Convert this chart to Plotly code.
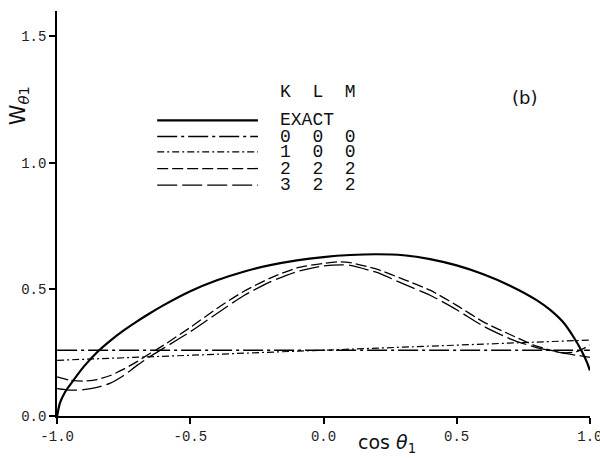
import plotly.graph_objects as go

# ---------------- data ----------------
x_exact = [-1.0, -0.99, -0.97, -0.95, -0.9, -0.85, -0.8, -0.75, -0.7, -0.65, -0.6, -0.5, -0.4, -0.3, -0.2, -0.1,
           0.0, 0.1, 0.2, 0.3, 0.4, 0.5, 0.6, 0.7, 0.8, 0.85, 0.9, 0.94, 0.97, 0.99, 1.0]
y_exact = [0.0, 0.05, 0.095, 0.125, 0.195, 0.252, 0.298, 0.338, 0.374, 0.407, 0.438, 0.493, 0.536, 0.57, 0.596, 0.615,
           0.628, 0.636, 0.639, 0.635, 0.62, 0.595, 0.56, 0.515, 0.458, 0.42, 0.37, 0.31, 0.255, 0.21, 0.18]

x_000 = [-1.0, 1.0]
y_000 = [0.26, 0.26]

x_100 = [-1.0, 1.0]
y_100 = [0.22, 0.30]

x_222 = [-1.0, -0.95, -0.9, -0.85, -0.8, -0.75, -0.7, -0.65, -0.6, -0.5, -0.4, -0.3, -0.2, -0.1,
         0.0, 0.06, 0.1, 0.2, 0.3, 0.4, 0.5, 0.6, 0.7, 0.8, 0.9, 0.95, 1.0]
y_222 = [0.155, 0.141, 0.138, 0.144, 0.16, 0.185, 0.215, 0.248, 0.28, 0.35, 0.425, 0.492, 0.545, 0.585,
         0.603, 0.609, 0.606, 0.58, 0.54, 0.497, 0.437, 0.372, 0.322, 0.276, 0.25, 0.254, 0.28]

x_322 = [-1.0, -0.95, -0.9, -0.85, -0.8, -0.75, -0.7, -0.65, -0.6, -0.5, -0.4, -0.3, -0.2, -0.1,
         0.0, 0.07, 0.1, 0.2, 0.3, 0.4, 0.5, 0.6, 0.7, 0.8, 0.9, 0.95, 1.0]
y_322 = [0.108, 0.102, 0.104, 0.113, 0.13, 0.16, 0.2, 0.236, 0.268, 0.333, 0.405, 0.475, 0.53, 0.57,
         0.593, 0.597, 0.595, 0.567, 0.522, 0.477, 0.42, 0.355, 0.305, 0.27, 0.248, 0.24, 0.232]

x_ticks = [-1.0, -0.5, 0.0, 0.5, 1.0]
x_ticklabels = ["-1.0", "-0.5", "0.0", "0.5", "1.0"]
y_ticks = [0.0, 0.5, 1.0, 1.5]
y_ticklabels = ["0.0", "0.5", "1.0", "1.5"]

legend_header = "K  L  M"
legend_labels = ["EXACT", "0  0  0", "1  0  0", "2  2  2", "3  2  2"]

# ---------------- styles ----------------
styles = {
    "EXACT": dict(dash="solid", width=2.2),
    "000": dict(dash="20px,4px,3px,4px", width=1.4),
    "100": dict(dash="7px,3px,2px,3px", width=1.2),
    "222": dict(dash="11px,4px", width=1.3),
    "322": dict(dash="20px,5px", width=1.3),
}
legend_styles = [styles["EXACT"], styles["000"], styles["100"], styles["222"], styles["322"]]

fig = go.Figure()
series = [
    ("EXACT", x_exact, y_exact),
    ("000", x_000, y_000),
    ("100", x_100, y_100),
    ("222", x_222, y_222),
    ("322", x_322, y_322),
]
for name, xs, ys in series:
    st = styles[name]
    fig.add_trace(go.Scatter(
        x=xs, y=ys, mode="lines", name=name, showlegend=False, cliponaxis=False,
        line=dict(color="black", width=st["width"], dash=st["dash"], shape="spline", smoothing=0.6),
        hoverinfo="skip",
    ))

mono = "Liberation Mono, DejaVu Sans Mono, monospace"
sans = "DejaVu Sans, Liberation Sans, sans-serif"

fig.update_layout(
    width=600, height=458,
    margin=dict(l=57, r=10, t=11, b=42, autoexpand=False),
    paper_bgcolor="white", plot_bgcolor="white",
    showlegend=False,
    xaxis=dict(
        range=[-1.0005, 1.0005], tickvals=x_ticks, ticktext=x_ticklabels,
        showline=True, linecolor="black", linewidth=1.5, mirror=False,
        ticks="outside", ticklen=6, tickwidth=1.5, tickcolor="black",
        showgrid=False, zeroline=False, ticklabeloverflow="allow", automargin=False,
        tickfont=dict(family=mono, size=14, color="#222"),
    ),
    yaxis=dict(
        range=[0.0, 1.6], tickvals=y_ticks, ticktext=y_ticklabels,
        showline=True, linecolor="black", linewidth=1.5, mirror=False,
        ticks="outside", ticklen=6, tickwidth=1.5, tickcolor="black",
        showgrid=False, zeroline=False, automargin=False,
        tickfont=dict(family=mono, size=14, color="#222"),
    ),
)

# ---------------- legend (drawn manually) ----------------
leg_y = [0.730, 0.690, 0.652, 0.611, 0.570]
leg_x0, leg_x1 = 0.188, 0.377
text_x = 0.414
for yy, st in zip(leg_y, legend_styles):
    fig.add_shape(type="line", xref="paper", yref="paper", x0=leg_x0, x1=leg_x1, y0=yy, y1=yy,
                  line=dict(color="black", width=st["width"], dash=st["dash"]))
for yy, lab in zip(leg_y, legend_labels):
    fig.add_annotation(xref="paper", yref="paper", x=text_x, y=yy, text=lab, showarrow=False,
                       xanchor="left", yanchor="middle", font=dict(family=mono, size=18, color="#111"))
fig.add_annotation(xref="paper", yref="paper", x=text_x, y=0.80, text=legend_header, showarrow=False,
                   xanchor="left", yanchor="middle", font=dict(family=mono, size=18, color="#111"))

# panel label
fig.add_annotation(xref="paper", yref="paper", x=0.878, y=0.787, text="(b)", showarrow=False,
                   xanchor="center", yanchor="middle", font=dict(family=sans, size=18, color="#111"))

# axis titles
fig.add_annotation(xref="paper", yref="paper", x=-0.071, y=0.765, text="W<sub><i>θ</i>1</sub>",
                   showarrow=False, textangle=-90, xanchor="center", yanchor="middle",
                   font=dict(family=sans, size=21, color="#111"))
fig.add_annotation(xref="paper", yref="paper", x=0.62, y=-0.068, text="cos <i>θ</i><sub>1</sub>",
                   showarrow=False, xanchor="center", yanchor="middle",
                   font=dict(family=sans, size=19, color="#111"))

fig.write_html("out.html", config={"displayModeBar": False},
               post_script="document.body.style.margin='0';document.body.style.overflow='hidden';")
